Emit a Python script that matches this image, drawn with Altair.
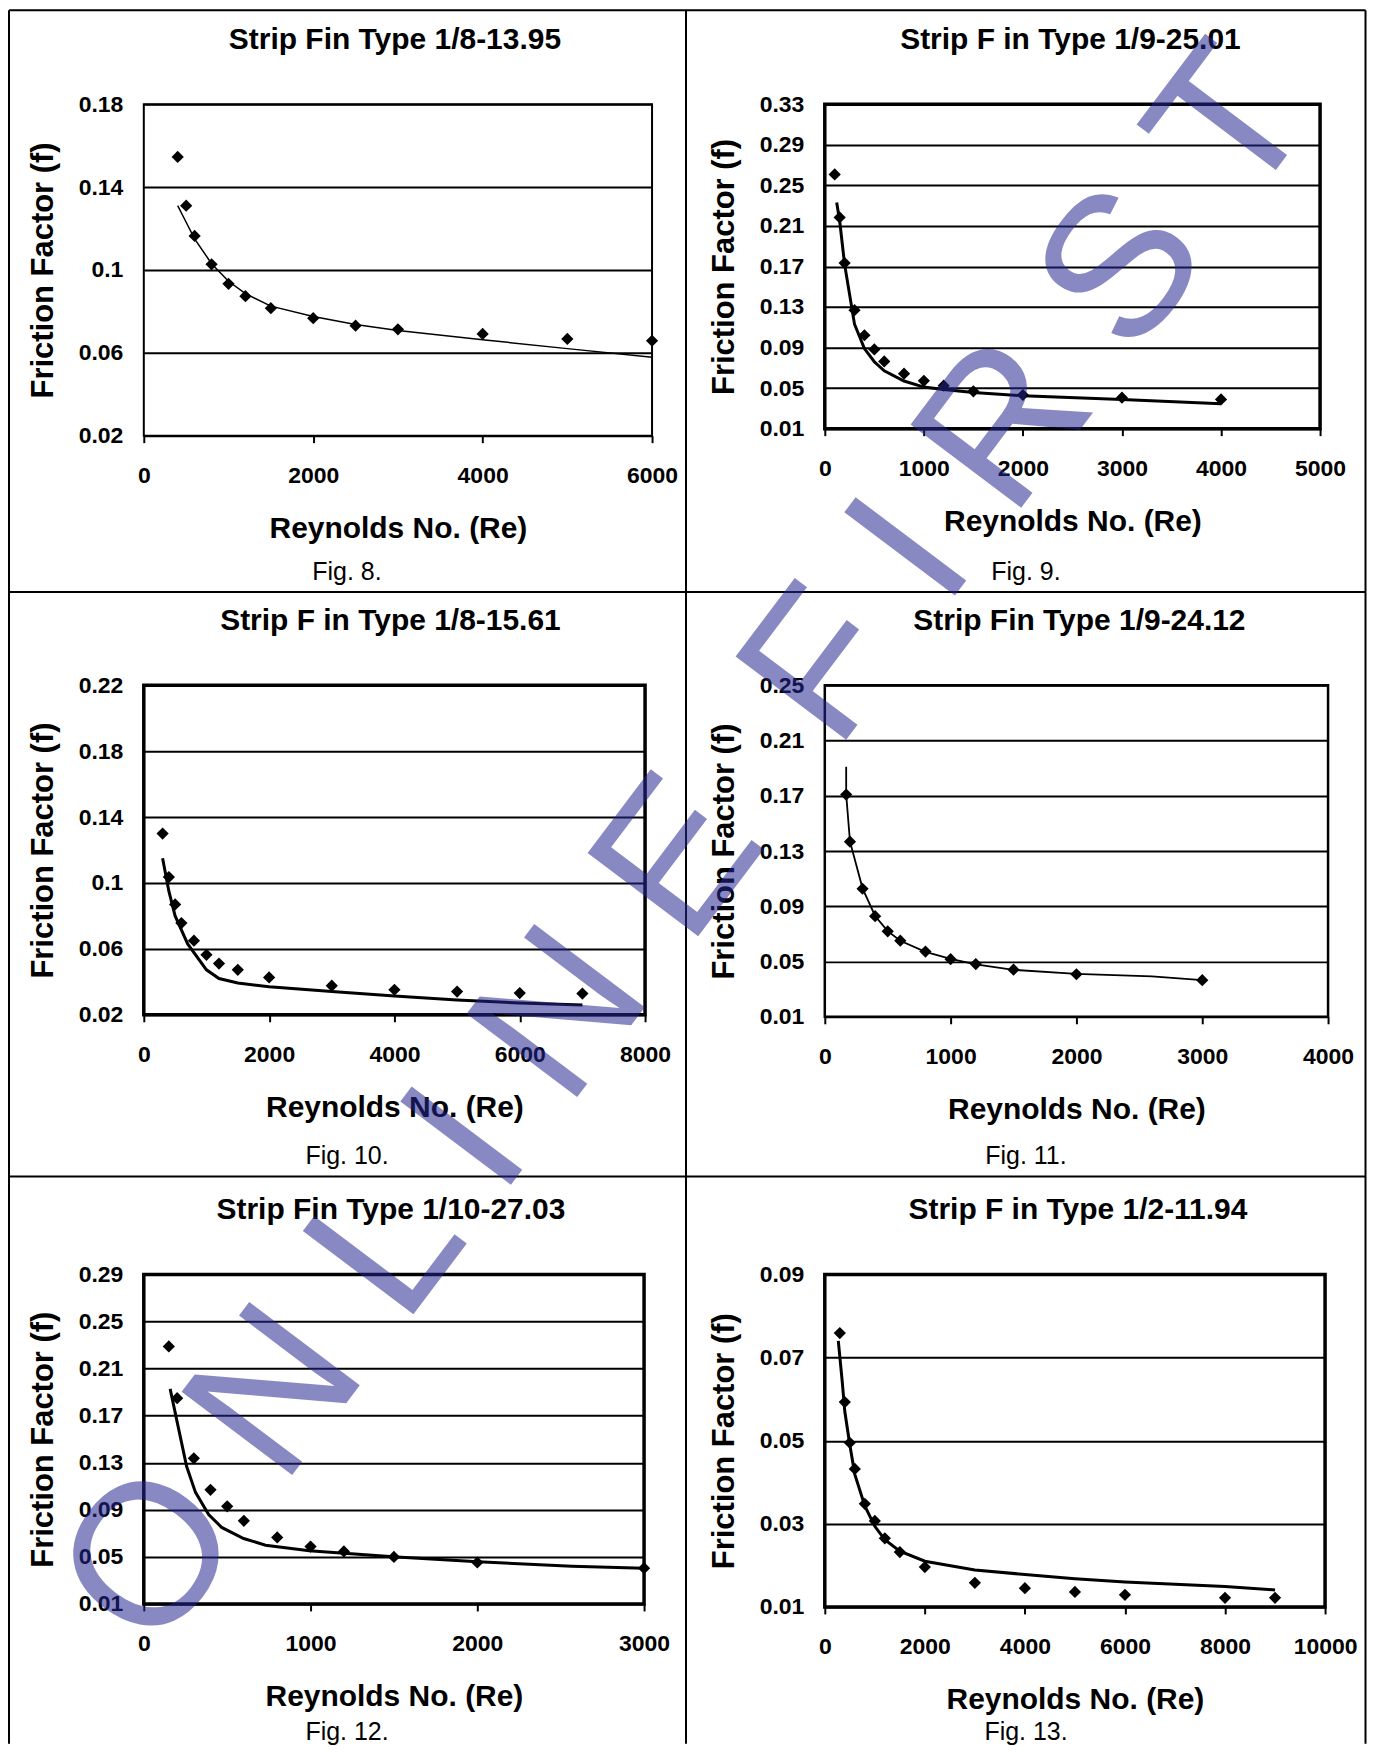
import altair as alt
import pandas as pd

FONT = "Liberation Sans"

# ---------------- data ----------------
titles = [
    "Strip Fin Type 1/8-13.95",
    "Strip F in Type 1/9-25.01",
    "Strip F in Type 1/8-15.61",
    "Strip Fin Type 1/9-24.12",
    "Strip Fin Type 1/10-27.03",
    "Strip F in Type 1/2-11.94",
]
captions = ["Fig. 8.", "Fig. 9.", "Fig. 10.", "Fig. 11.", "Fig. 12.", "Fig. 13."]
x_title = "Reynolds No. (Re)"
y_title = "Friction Factor (f)"

x_ticks = [
    [0, 2000, 4000, 6000],
    [0, 1000, 2000, 3000, 4000, 5000],
    [0, 2000, 4000, 6000, 8000],
    [0, 1000, 2000, 3000, 4000],
    [0, 1000, 2000, 3000],
    [0, 2000, 4000, 6000, 8000, 10000],
]
y_ticks = [
    [0.02, 0.06, 0.10, 0.14, 0.18],
    [0.01, 0.05, 0.09, 0.13, 0.17, 0.21, 0.25, 0.29, 0.33],
    [0.02, 0.06, 0.10, 0.14, 0.18, 0.22],
    [0.01, 0.05, 0.09, 0.13, 0.17, 0.21, 0.25],
    [0.01, 0.05, 0.09, 0.13, 0.17, 0.21, 0.25, 0.29],
    [0.01, 0.03, 0.05, 0.07, 0.09],
]

# Fig. 8
re1 = [400, 500, 600, 800, 1000, 1200, 1500, 2000, 2500, 3000, 4000, 5000, 6000]
f1 = [0.1545, 0.131, 0.1164, 0.1027, 0.0933, 0.0873, 0.0815, 0.0767, 0.0731, 0.0713, 0.0691, 0.0667, 0.0658]
fit_re1 = [400, 500, 600, 800, 1000, 1200, 1500, 2000, 2500, 3000, 4000, 5000, 6000]
fit_f1 = [0.131, 0.123, 0.115, 0.103, 0.0945, 0.0885, 0.0825, 0.0775, 0.0737, 0.0708, 0.0663, 0.0620, 0.0578]

# Fig. 9
re2 = [100, 150, 200, 300, 400, 500, 600, 800, 1000, 1200, 1500, 2000, 3000, 4000]
f2 = [0.2607, 0.2183, 0.1733, 0.1268, 0.1021, 0.0881, 0.0763, 0.0642, 0.0572, 0.0524, 0.0468, 0.0432, 0.0406, 0.0388]
fit_re2 = [120, 150, 200, 300, 400, 500, 600, 800, 1000, 1200, 1500, 2000, 3000, 4000]
fit_f2 = [0.233, 0.215, 0.172, 0.113, 0.089, 0.076, 0.067, 0.057, 0.051, 0.0487, 0.0457, 0.0424, 0.0387, 0.0345]

# Fig. 10
re3 = [300, 400, 500, 600, 800, 1000, 1200, 1500, 2000, 3000, 4000, 5000, 6000, 7000]
f3 = [0.130, 0.1036, 0.087, 0.0757, 0.065, 0.0564, 0.0511, 0.0473, 0.0427, 0.0377, 0.0352, 0.0341, 0.0332, 0.0329]
fit_re3 = [300, 400, 500, 700, 1000, 1200, 1500, 2000, 3000, 4000, 5000, 6000, 7000]
fit_f3 = [0.115, 0.095, 0.080, 0.063, 0.0473, 0.0420, 0.0393, 0.0370, 0.0341, 0.0314, 0.0290, 0.0272, 0.0260]

# Fig. 11
re4 = [170, 200, 300, 400, 500, 600, 800, 1000, 1200, 1500, 2000, 3000]
f4 = [0.1709, 0.1368, 0.1027, 0.0828, 0.0719, 0.0651, 0.0572, 0.0517, 0.0482, 0.0441, 0.0408, 0.0365]
fit_re4 = [170, 170, 200, 300, 400, 500, 600, 800, 1000, 1200, 1500, 2000, 2600, 3000]
fit_f4 = [0.191, 0.171, 0.137, 0.103, 0.083, 0.072, 0.065, 0.057, 0.052, 0.048, 0.044, 0.041, 0.0392, 0.0365]

# Fig. 12
re5 = [150, 200, 300, 400, 500, 600, 800, 1000, 1200, 1500, 2000, 3000]
f5 = [0.2288, 0.1848, 0.1337, 0.107, 0.0929, 0.0806, 0.0665, 0.0587, 0.0546, 0.0499, 0.0452, 0.0404]
fit_re5 = [158, 205, 257, 310, 389, 467, 599, 730, 992, 1202, 1517, 2003, 2567, 3000]
fit_f5 = [0.1927, 0.1613, 0.1268, 0.1048, 0.086, 0.075, 0.0656, 0.0599, 0.0552, 0.053, 0.0499, 0.0458, 0.042, 0.0404]

# Fig. 13
re6 = [300, 400, 500, 600, 800, 1000, 1200, 1500, 2000, 3000, 4000, 5000, 6000, 8000, 9000]
f6 = [0.0759, 0.0593, 0.0495, 0.0432, 0.0348, 0.0307, 0.0265, 0.0232, 0.0196, 0.0158, 0.0145, 0.0136, 0.0129, 0.0122, 0.0122]
fit_re6 = [270, 350, 400, 500, 600, 800, 1000, 1200, 1500, 2000, 3000, 4000, 5000, 6000, 8000, 9000]
fit_f6 = [0.074, 0.064, 0.057, 0.049, 0.0419, 0.0343, 0.0294, 0.0262, 0.0234, 0.021, 0.0189, 0.0178, 0.0168, 0.016, 0.0149, 0.0141]

points_re = [re1, re2, re3, re4, re5, re6]
points_f = [f1, f2, f3, f4, f5, f6]
fits_re = [fit_re1, fit_re2, fit_re3, fit_re4, fit_re5, fit_re6]
fits_f = [fit_f1, fit_f2, fit_f3, fit_f4, fit_f5, fit_f6]

# ---------------- layout (pixels) ----------------
PLOT_W = [509, 496, 502, 504, 501, 501]
PLOT_H = [332, 325, 330, 332, 330, 333]
FRAME_W = [2, 3.5, 3.5, 2.5, 3.5, 3.5]
LINE_W = [1.5, 3, 3, 1.8, 3, 3]
TITLE_DX = [-3, -2, -4, 3, -3, 3]
COL_SPACE = [136, 173]          # left margin, gap between the two columns
ROW_SPACE = [95, 250, 258]      # top margin, gap row1-row2, gap row2-row3
MARGIN = 8
DECOR_X0 = MARGIN
DECOR_Y0 = MARGIN + ROW_SPACE[0] + max(PLOT_H[0], PLOT_H[1]) + ROW_SPACE[1] \
    + max(PLOT_H[2], PLOT_H[3]) + ROW_SPACE[2] + max(PLOT_H[4], PLOT_H[5])

sp_df = pd.DataFrame({"s": [0]})
NO_FRAME = alt.ViewBackground(stroke="transparent", strokeWidth=0)


def spacer(w, h):
    return (
        alt.Chart(sp_df)
        .mark_point(opacity=0, size=0, strokeWidth=0)
        .encode(x=alt.value(0), y=alt.value(0))
        .properties(width=w, height=h, view=NO_FRAME)
    )


def panel(i):
    pts = pd.DataFrame({"Re": points_re[i], "f": points_f[i]})
    fit = pd.DataFrame({"Re": fits_re[i], "f": fits_f[i], "o": list(range(len(fits_re[i])))})
    xs = alt.Scale(domain=[x_ticks[i][0], x_ticks[i][-1]], nice=False, zero=False)
    ys = alt.Scale(domain=[y_ticks[i][0], y_ticks[i][-1]], nice=False, zero=False)
    xax = alt.Axis(
        values=x_ticks[i], format="d", title=x_title, grid=False, domain=False,
        ticks=True, tickSize=7, tickWidth=2, tickColor="black",
        labelFont=FONT, labelFontSize=23, labelFontWeight="bold", labelColor="black",
        labelPadding=40, labelBaseline="alphabetic", labelFlush=False, labelOverlap=False,
        titleFont=FONT, titleFontSize=30, titleFontWeight="bold", titleColor="black",
        titleY=102, titleBaseline="alphabetic",
    )
    yax = alt.Axis(
        values=y_ticks[i], format=".2~f", title=y_title, grid=True, gridColor="black",
        gridWidth=2, gridOpacity=1, domain=False, ticks=False, tickSize=0,
        labelFont=FONT, labelFontSize=23, labelFontWeight="bold", labelColor="black",
        labelPadding=21, labelFlush=False, labelOverlap=False,
        titleFont=FONT, titleFontSize=31, titleFontWeight="bold", titleColor="black",
        titleX=-91, titleBaseline="alphabetic", titleAngle=270,
    )
    x = alt.X("Re:Q", scale=xs, axis=xax)
    y = alt.Y("f:Q", scale=ys, axis=yax)
    line = alt.Chart(fit).mark_line(color="black", strokeWidth=LINE_W[i]).encode(
        x=x, y=y, order="o:Q"
    )
    dots = alt.Chart(pts).mark_point(
        shape="diamond", filled=True, color="black", size=150, opacity=1
    ).encode(x=x, y=y)
    ttl = alt.Chart(pd.DataFrame({"t": [titles[i]]})).mark_text(
        font=FONT, fontSize=30, fontWeight="bold", align="center",
        baseline="alphabetic", color="black",
    ).encode(
        text="t:N",
        x=alt.value(PLOT_W[i] / 2 + TITLE_DX[i]),
        y=alt.value(-55),
    )
    return alt.layer(line, dots, ttl).properties(
        width=PLOT_W[i], height=PLOT_H[i],
        view=alt.ViewBackground(stroke="black", strokeWidth=FRAME_W[i], fill="white"),
    )


# ---------------- table grid, captions, watermark (page pixels) ----------------
tbl_x1 = [9, 9, 9, 9, 687, 1367.5]
tbl_x2 = [1367.5, 1367.5, 1367.5, 9, 687, 1367.5]
tbl_y1 = [9, 591.5, 1177, 9, 9, 9]
tbl_y2 = [9, 591.5, 1177, 1745, 1745, 1745]
cap_x = [347.5, 1027.5, 347.5, 1027.5, 347.5, 1027.5]
cap_y = [580, 580, 1164, 1164, 1741, 1741]
# the gap between E and F is wider: a no-break space keeps it from collapsing
wm_text = "O N L I N E \u00a0F I R S T"
wm_pos = (737.5, 885.6)
wm_size = 201.5

lines_df = pd.DataFrame({
    "px": [v - DECOR_X0 for v in tbl_x1],
    "px2": [v - DECOR_X0 for v in tbl_x2],
    "py": [v - DECOR_Y0 for v in tbl_y1],
    "py2": [v - DECOR_Y0 for v in tbl_y2],
})
cap_df = pd.DataFrame({
    "cap": captions,
    "px": [v - DECOR_X0 for v in cap_x],
    "py": [v - DECOR_Y0 for v in cap_y],
})
wm_df = pd.DataFrame({"w": [wm_text]})

px_enc = alt.X("px:Q", scale=None, axis=None)
py_enc = alt.Y("py:Q", scale=None, axis=None)
table = alt.Chart(lines_df).mark_rule(color="black", strokeWidth=2).encode(
    x=px_enc, x2="px2:Q", y=py_enc, y2="py2:Q"
)
caps = alt.Chart(cap_df).mark_text(
    font=FONT, fontSize=25, align="center", baseline="alphabetic", color="black"
).encode(x=px_enc, y=py_enc, text="cap:N")
watermark = alt.Chart(wm_df).mark_text(
    font=FONT, fontSize=wm_size, align="center", baseline="alphabetic",
    angle=307, color="#252592", opacity=0.54,
).encode(
    text="w:N",
    x=alt.value(wm_pos[0] - DECOR_X0),
    y=alt.value(wm_pos[1] - DECOR_Y0),
)
decor = alt.layer(table, caps, watermark).properties(width=1, height=1, view=NO_FRAME)

panels = [panel(i) for i in range(6)]

items = [
    spacer(COL_SPACE[0], ROW_SPACE[0]), spacer(1, 1), spacer(COL_SPACE[1], 1), spacer(1, 1),
    spacer(1, 1), panels[0], spacer(1, 1), panels[1],
    spacer(1, ROW_SPACE[1]), spacer(1, 1), spacer(1, 1), spacer(1, 1),
    spacer(1, 1), panels[2], spacer(1, 1), panels[3],
    spacer(1, ROW_SPACE[2]), spacer(1, 1), spacer(1, 1), spacer(1, 1),
    spacer(1, 1), panels[4], spacer(1, 1), panels[5],
    decor,
]

chart = (
    alt.concat(*items, columns=4, spacing=0, bounds="flush", align="none")
    .properties(padding=0, background="white")
    .configure_view(stroke="transparent", strokeWidth=0)
    .configure(font=FONT)
)

chart.save("out.html", embed_options={"renderer": "svg", "actions": False})
